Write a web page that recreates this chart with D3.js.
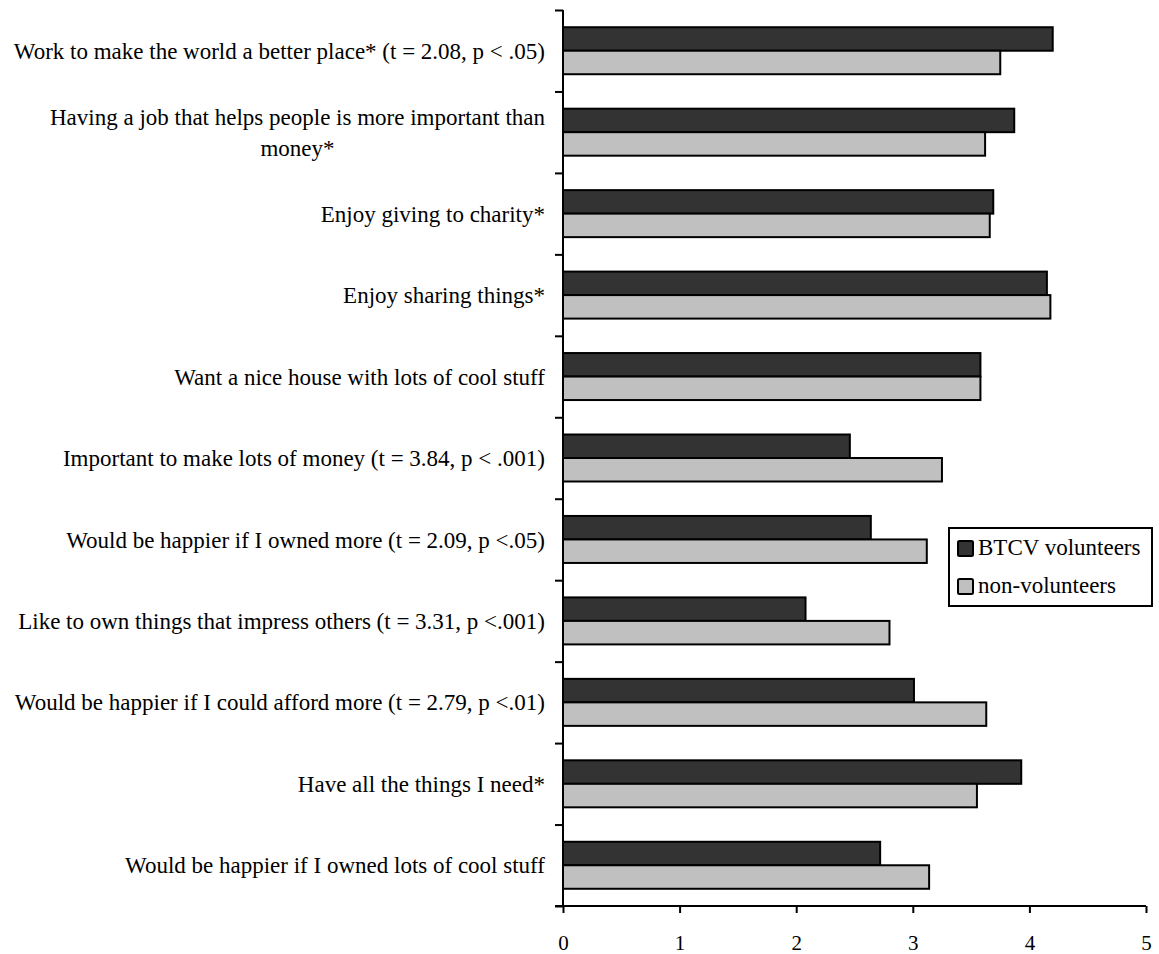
<!DOCTYPE html>
<html>
  <head>
    <meta charset="utf-8">
    <title>Values: volunteers vs non-volunteers</title>
    <script src="https://d3js.org/d3.v7.min.js"></script>
    <style>
      body { margin: 0; background: #fff; }
      text { font-family: "Liberation Serif", "Times New Roman", serif; fill: #000; }
    </style>
  </head>
  <body>
    <div id="chart"></div>
    <script>
      // Categories, top to bottom (label lines)
      var categories = [
        ["Work to make the world a better place* (t = 2.08, p < .05)"],
        ["Having a job that helps people is more important than", "money*"],
        ["Enjoy giving to charity*"],
        ["Enjoy sharing things*"],
        ["Want a nice house with lots of cool stuff"],
        ["Important to make lots of money (t = 3.84, p < .001)"],
        ["Would be happier if I owned more (t = 2.09, p <.05)"],
        ["Like to own things that impress others (t = 3.31, p <.001)"],
        ["Would be happier if I could afford more (t = 2.79, p <.01)"],
        ["Have all the things I need*"],
        ["Would be happier if I owned lots of cool stuff"]
      ];
      var seriesNames = ["BTCV volunteers", "non-volunteers"];
      var volunteers    = [4.20, 3.87, 3.69, 4.15, 3.58, 2.46, 2.64, 2.08, 3.01, 3.93, 2.72];
      var nonVolunteers = [3.75, 3.62, 3.66, 4.18, 3.58, 3.25, 3.12, 2.80, 3.63, 3.55, 3.14];
      var xTicks = [0, 1, 2, 3, 4, 5];

      var W = 1159, H = 954;
      var plotL = 563, plotR = 1146, plotT = 10, plotB = 906;

      var svg = d3.select("#chart").append("svg")
          .attr("width", W)
          .attr("height", H);

      var idx = d3.range(categories.length);

      // Scales
      var x = d3.scaleLinear().domain([0, 5]).range([plotL, plotR]);
      var y = d3.scaleBand().domain(idx)
          .range([plotT, plotB])
          .paddingInner(0.423)
          .paddingOuter(0.2115);
      var ySub = d3.scaleBand().domain([0, 1]).range([0, y.bandwidth()]);
      var yEdge = d3.scaleLinear().domain([0, categories.length]).range([plotT, plotB]);

      var fills = ["#333333", "#c0c0c0"];

      // Bars
      var rows = idx.map(function(i) {
        return [volunteers[i], nonVolunteers[i]].map(function(v, s) {
          return {i: i, s: s, v: v};
        });
      });
      svg.append("g").selectAll("g")
        .data(rows)
        .enter().append("g")
          .attr("transform", function(d, i) { return "translate(0," + y(i) + ")"; })
        .selectAll("rect")
        .data(function(d) { return d; })
        .enter().append("rect")
          .attr("x", x(0))
          .attr("y", function(d) { return ySub(d.s); })
          .attr("width", function(d) { return x(d.v) - x(0); })
          .attr("height", ySub.bandwidth())
          .attr("fill", function(d) { return fills[d.s]; })
          .attr("stroke", "#000")
          .attr("stroke-width", 2);

      // Y axis (ticks between categories)
      var yAxis = svg.append("g")
          .attr("transform", "translate(" + plotL + ",0)")
          .call(d3.axisLeft(yEdge).tickValues(d3.range(categories.length + 1))
            .tickSize(8).tickFormat(""));
      yAxis.select(".domain").attr("d", "M0," + plotT + "V" + plotB);
      yAxis.selectAll("path, line").attr("stroke", "#000").attr("stroke-width", 2);

      // X axis
      var xAxis = svg.append("g")
          .attr("transform", "translate(0," + plotB + ")")
          .call(d3.axisBottom(x).tickValues(xTicks).tickFormat(d3.format("d"))
            .tickSize(7).tickPadding(22));
      xAxis.select(".domain").attr("d", "M" + (plotL - 8) + ",0H" + plotR);
      xAxis.selectAll("path, line").attr("stroke", "#000").attr("stroke-width", 2);
      xAxis.selectAll("text")
          .style("font-family", "'Liberation Serif', serif")
          .style("font-size", "21px")
          .attr("fill", "#000");

      // Category labels
      var labelX = 545, lineH = 31;
      var labels = svg.append("g").style("font-size", "23px");
      categories.forEach(function(lines, i) {
        var cy = y(i) + y.bandwidth() / 2;
        var t = labels.append("text")
            .attr("text-anchor", lines.length > 1 ? "middle" : "end")
            .attr("x", labelX);
        lines.forEach(function(line, k) {
          t.append("tspan")
            .attr("x", labelX)
            .attr("y", cy + (k - (lines.length - 1) / 2) * lineH)
            .attr("dy", "0.35em")
            .text(line);
        });
        if (lines.length > 1) {
          var w = d3.max(t.selectAll("tspan").nodes(), function(n) { return n.getComputedTextLength(); });
          t.selectAll("tspan").attr("x", labelX - w / 2);
        }
      });

      // Legend
      var lg = svg.append("g").attr("transform", "translate(949,528)");
      lg.append("rect")
          .attr("width", 203).attr("height", 78)
          .attr("fill", "#fff").attr("stroke", "#000").attr("stroke-width", 2);
      seriesNames.forEach(function(name, s) {
        var gy = 13 + s * 38;
        lg.append("rect")
            .attr("x", 9).attr("y", gy)
            .attr("width", 15).attr("height", 15)
            .attr("rx", 1.5)
            .attr("fill", fills[s]).attr("stroke", "#000").attr("stroke-width", 2);
        lg.append("text")
            .attr("x", 29).attr("y", gy + 14)
            .style("font-size", "23px")
            .text(name);
      });
    </script>
  </body>
</html>
